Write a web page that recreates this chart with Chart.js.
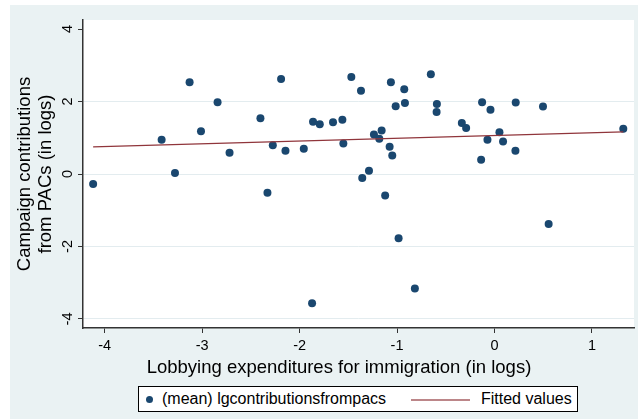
<!DOCTYPE html>
<html>
<head>
<meta charset="utf-8">
<script src="https://cdn.jsdelivr.net/npm/chart.js@4/dist/chart.umd.min.js"></script>
<style>
  html, body { margin: 0; padding: 0; background: #fff; }
  #wrap { position: relative; width: 638px; height: 419px; overflow: hidden;
          font-family: "Liberation Sans", Arial, sans-serif; color: #000; }
  #bg { position: absolute; left: 10px; top: 5px; right: 0; bottom: 0; background: #EAF2F3; }
  #chart { position: absolute; left: 0; top: 0; }
  #legend { position: absolute; left: 138px; top: 386px; width: 438px; height: 24px;
            border: 1px solid #000; background: #fff; font-size: 16px; line-height: 24px; }
  #legend .dot { position: absolute; left: 7px; top: 9px; width: 7px; height: 7px;
                 border-radius: 50%; background: #1A476F; }
  #legend .txt { position: absolute; top: 0; white-space: nowrap; }
  #legend .ln { position: absolute; left: 272px; top: 12px; width: 59px; height: 1.5px;
                background: rgba(144, 53, 59, 0.6); }
</style>
</head>
<body>
<div id="wrap">
  <div id="bg"></div>
  <canvas id="chart" width="638" height="419"></canvas>
  <div id="legend">
    <span class="dot"></span>
    <span class="txt" style="left:23px">(mean) lgcontributionsfrompacs</span>
    <span class="ln"></span>
    <span class="txt" style="left:342px">Fitted values</span>
  </div>
</div>
<script>
// Lobbying expenditures for immigration (log) per observation
const lobbying = [
  -4.119, -3.416, -3.279, -3.129, -3.012, -2.842, -2.719, -2.402, -2.330, -2.275,
  -2.190, -2.145, -1.957, -1.872, -1.862, -1.793, -1.657, -1.561, -1.551, -1.469,
  -1.370, -1.357, -1.288, -1.237, -1.182, -1.158, -1.122, -1.076, -1.063, -1.049,
  -1.014, -0.984, -0.926, -0.919, -0.817, -0.653, -0.594, -0.591, -0.335, -0.291,
  -0.137, -0.127, -0.072, -0.041, 0.051, 0.088, 0.215, 0.218, 0.498, 0.556, 1.322
];
// Mean campaign contributions from PACs (log)
const contributions = [
  -0.275, 0.945, 0.03, 2.53, 1.18, 1.98, 0.587, 1.54, -0.52, 0.79,
  2.625, 0.64, 0.70, -3.565, 1.44, 1.37, 1.43, 1.50, 0.84, 2.68,
  2.30, -0.11, 0.09, 1.09, 0.97, 1.20, -0.59, 0.75, 2.53, 0.51,
  1.87, -1.77, 2.34, 1.96, -3.16, 2.755, 1.71, 1.93, 1.41, 1.27,
  0.39, 1.98, 0.945, 1.77, 1.15, 0.90, 0.64, 1.97, 1.86, -1.38, 1.25
];
// Linear fit endpoints
const fitX = [-4.119, 1.322];
const fitY = [0.75, 1.16];

const xTicks = [-4, -3, -2, -1, 0, 1];
const yTicks = [-4, -2, 0, 2, 4];

const xTitle = 'Lobbying expenditures for immigration (in logs)';

const FONT = '"Liberation Sans", Arial, sans-serif';

const plotBg = {
  id: 'plotBg',
  beforeDraw(chart) {
    const { ctx, chartArea: a } = chart;
    ctx.save();
    ctx.fillStyle = '#fff';
    ctx.fillRect(a.left, a.top, a.right - a.left, a.bottom - a.top);
    ctx.restore();
  },
  afterDraw(chart) {
    const ys = chart.scales.y;
    const ctx = chart.ctx;
    ctx.save();
    ctx.fillStyle = '#000';
    ctx.textAlign = 'center';
    ctx.textBaseline = 'middle';
    // rotated y tick labels
    ctx.font = '14.5px ' + FONT;
    ys.ticks.forEach(t => {
      const py = ys.getPixelForValue(t.value);
      ctx.save();
      ctx.translate(68, py);
      ctx.rotate(-Math.PI / 2);
      ctx.fillText(String(t.value), 0, 0);
      ctx.restore();
    });
    // x axis title
    ctx.font = '18.5px ' + FONT;
    ctx.fillText(xTitle, 339, 368);
    ctx.restore();
  }
};

new Chart(document.getElementById('chart'), {
  type: 'scatter',
  data: {
    datasets: [
      {
        type: 'line',
        label: 'Fitted values',
        data: fitX.map((x, i) => ({ x, y: fitY[i] })),
        borderColor: '#90353B',
        borderWidth: 1.2,
        pointRadius: 0,
        fill: false,
        tension: 0
      },
      {
        label: '(mean) lgcontributionsfrompacs',
        data: lobbying.map((x, i) => ({ x, y: contributions[i] })),
        backgroundColor: '#1A476F',
        borderWidth: 0,
        pointRadius: 4,
        pointHoverRadius: 4
      }
    ]
  },
  options: {
    responsive: false,
    animation: false,
    devicePixelRatio: 1,
    events: [],
    layout: { padding: { left: 0, right: 4, top: 20, bottom: 39 } },
    plugins: { legend: { display: false }, tooltip: { enabled: false } },
    scales: {
      x: {
        type: 'linear',
        min: -4.223,
        max: 1.432,
        afterBuildTicks: s => { s.ticks = xTicks.map(v => ({ value: v })); },
        afterFit: s => { s.height = 52; },
        grid: { drawOnChartArea: false, drawTicks: true, tickLength: 5, tickColor: '#333', tickWidth: 1 },
        border: { display: true, color: '#333', width: 1.5 },
        ticks: { color: '#000', font: { size: 14.5, family: FONT }, padding: 4,
                 maxRotation: 0, minRotation: 0, autoSkip: false },
        title: { display: false }
      },
      y: {
        type: 'linear',
        min: -4.25,
        max: 4.25,
        afterBuildTicks: s => { s.ticks = yTicks.map(v => ({ value: v })); },
        afterFit: s => { s.width = 83; },
        grid: {
          color: c => (c.tick && c.tick.value === 4) ? 'rgba(0,0,0,0)' : '#E3ECEF',
          lineWidth: 1, drawTicks: true, tickLength: 5, tickColor: '#333', tickWidth: 1
        },
        border: { display: true, color: '#333', width: 1.5 },
        ticks: { display: false },
        title: { display: true, text: ['Campaign contributions', 'from PACs (in logs)'],
                 color: '#000', font: { size: 18.5, family: FONT, lineHeight: 1.1 },
                 padding: { top: 15, bottom: 0 } }
      }
    }
  },
  plugins: [plotBg]
});
</script>
</body>
</html>
